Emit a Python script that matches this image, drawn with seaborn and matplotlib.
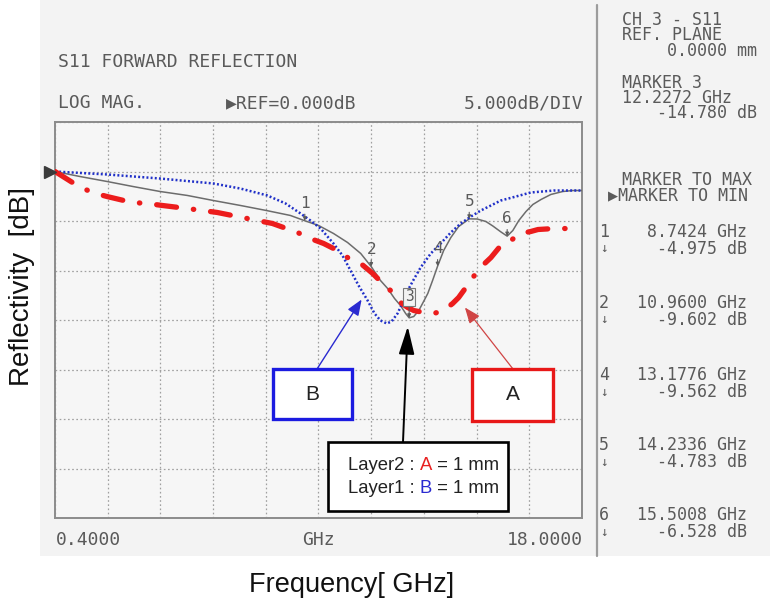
import matplotlib
matplotlib.use("Agg")
import matplotlib.pyplot as plt
import matplotlib.transforms as mtransforms
from matplotlib.patches import Rectangle
from matplotlib.lines import Line2D
from matplotlib.text import Annotation
import numpy as np
import pandas as pd
import seaborn as sns

# Sweep and display settings of the analyser screen
F_START, F_STOP = 0.4, 18.0          # GHz
REF_DB, DB_PER_DIV = 0.0, 5.0        # dB
N_XDIV, N_YDIV = 10, 8

# Measured two-layer response (grey solid trace, carries the markers)
freq_meas = [0.40, 1.24, 2.14, 3.01, 3.91, 4.82, 5.69, 6.59, 7.46, 8.26,
             8.7424, 9.20, 9.70, 10.17, 10.61, 10.96, 11.27, 11.51, 11.74,
             11.94, 12.11, 12.2272, 12.38, 12.55, 12.71, 12.85, 13.01,
             13.1776, 13.38, 13.62, 13.88, 14.2336, 14.50, 14.79, 15.02,
             15.29, 15.5008, 15.69, 15.89, 16.13, 16.36, 16.63, 16.96,
             17.36, 17.70, 18.00]
db_meas = [0.0, -0.51, -1.01, -1.52, -2.02, -2.42, -2.93, -3.43, -3.94, -4.44,
           -4.975, -5.45, -6.26, -7.17, -8.28, -9.602, -11.01, -11.82, -12.83,
           -13.54, -14.34, -14.78, -14.65, -14.04, -13.13, -12.32, -11.01,
           -9.562, -7.98, -6.67, -5.56, -4.783, -4.80, -5.05, -5.50,
           -6.10, -6.528, -5.96, -4.95, -4.04, -3.33, -2.83, -2.32,
           -2.02, -1.92, -1.92]

# Layer 1 : B = 1 mm (blue dotted trace)
freq_b = [0.40, 2.14, 3.91, 5.69, 6.59, 7.49, 8.10, 8.60, 8.93, 9.27, 9.70,
          10.00, 10.27, 10.54, 10.84, 11.07, 11.27, 11.48, 11.64, 11.84, 12.01,
          12.18, 12.38, 12.61, 12.95, 13.28, 13.62, 13.95, 14.29, 14.62, 14.96,
          15.29, 15.79, 16.29, 17.06, 18.00]
db_b = [0.0, -0.30, -0.71, -1.21, -1.72, -2.42, -3.23, -4.24, -4.95, -5.76,
        -7.27, -8.48, -10.0, -11.52, -13.03, -14.34, -15.05, -15.35, -15.15,
        -14.34, -13.23, -12.02, -10.91, -9.70, -8.28, -7.27, -6.16, -5.25,
        -4.55, -3.94, -3.43, -2.93, -2.53, -2.12, -1.92, -1.92]

# Layer 2 : A = 1 mm (red dash-dot trace)
freq_a = [0.40, 1.14, 1.64, 2.14, 2.98, 3.48, 3.98, 4.82, 5.32, 5.82, 6.66,
          7.16, 7.66, 8.50, 8.93, 9.37, 9.77, 10.17, 10.61, 11.01, 11.34,
          11.68, 11.94, 12.18, 12.38, 12.71, 13.05, 13.38, 13.68, 13.88, 14.05,
          14.29, 14.52, 14.75, 14.96, 15.29, 15.52, 15.96, 16.29, 16.53, 17.06,
          17.53, 18.00]
db_a = [0.0, -1.41, -2.12, -2.53, -3.13, -3.23, -3.43, -3.74, -3.94, -4.14,
        -4.65, -4.95, -5.25, -6.16, -6.77, -7.27, -7.88, -8.69, -9.29, -10.30,
        -11.31, -12.22, -13.23, -13.74, -14.04, -14.24, -14.34, -14.04, -13.33,
        -12.73, -12.02, -11.01, -10.0, -9.29, -8.69, -7.47, -7.17, -6.26,
        -6.06, -5.86, -5.76, -5.76, -5.76]

# Marker readouts
marker_ids = [1, 2, 3, 4, 5, 6]
marker_freq = [8.7424, 10.9600, 12.2272, 13.1776, 14.2336, 15.5008]
marker_db = [-4.975, -9.602, -14.780, -9.562, -4.783, -6.528]

sns.set_style("white")
plt.rcParams["lines.scale_dashes"] = False

W, H = 770, 606
fig = plt.figure(figsize=(W / 100, H / 100), dpi=100)
fig.patch.set_facecolor("white")


def px(x, y):
    """Screen pixel position -> figure fraction."""
    return (x / W, 1 - y / H)


MONO = ["DejaVu Sans Mono", "DejaVu Sans"]
SANS = ["Liberation Sans", "DejaVu Sans"]
SCREEN_TXT = "#5a5a5a"

# instrument screen background
fig.patches.append(Rectangle(px(40, 556), (W - 40) / W, 556 / H,
                             transform=fig.transFigure, facecolor="#f3f3f3",
                             edgecolor="none", zorder=-5))

ax = fig.add_axes([55 / W, 1 - 518 / H, (582 - 55) / W, (518 - 122) / H])
ax.set_zorder(1)
ax.set_facecolor("#f6f6f6")

df_meas = pd.DataFrame({"freq": freq_meas, "db": db_meas})
df_b = pd.DataFrame({"freq": freq_b, "db": db_b})
df_a = pd.DataFrame({"freq": freq_a, "db": db_a})

sns.lineplot(data=df_meas, x="freq", y="db", ax=ax, color="#6c6c6c", lw=1.1,
             estimator=None, sort=False, zorder=3)
sns.lineplot(data=df_b, x="freq", y="db", ax=ax, color="#2030c8", lw=1.8,
             estimator=None, sort=False, zorder=4)
ax.lines[-1].set_dashes([1.4, 1.6])
sns.lineplot(data=df_a, x="freq", y="db", ax=ax, color="#ec1c1c", lw=3.8,
             estimator=None, sort=False, zorder=5)
red = ax.lines[-1]
red.set_dashes([14.4, 12.2, 0.3, 12.2])
red.set_dash_capstyle("round")

ax.set_xlim(F_START, F_STOP)
ax.set_ylim(REF_DB - 7 * DB_PER_DIV, REF_DB + DB_PER_DIV)
ax.set_xticks(np.linspace(F_START, F_STOP, N_XDIV + 1))
ax.set_yticks(np.linspace(REF_DB - 7 * DB_PER_DIV, REF_DB + DB_PER_DIV, N_YDIV + 1))
ax.grid(True, color="#a0a0a0", lw=0.9, linestyle=(0, (1.2, 1.8)))
ax.tick_params(length=0, labelbottom=False, labelleft=False)
ax.set_xlabel("")
ax.set_ylabel("")
for s in ax.spines.values():
    s.set_color("#8c8c8c")
    s.set_linewidth(1.4)

# reference level pointer
tri_tf = mtransforms.offset_copy(ax.transData, fig=fig, x=-5, y=0, units="dots")
ax.plot([F_START], [REF_DB], marker=">", ms=9, color="#3a3a3a",
        transform=tri_tf, clip_on=False, zorder=6)

# marker flags
for mid, f, d in zip(marker_ids, marker_freq, marker_db):
    if mid == 3:
        ax.annotate(str(mid), xy=(f, d), xytext=(0, 15), textcoords="offset points",
                    ha="center", va="center", fontsize=10.5, family=MONO,
                    color="#5a5a5a", zorder=7,
                    bbox=dict(boxstyle="square,pad=0.12", fc="#f2f2f2",
                              ec="#7a7a7a", lw=0.8),
                    arrowprops=dict(arrowstyle="-|>", color="#5a5a5a", lw=0.8,
                                    mutation_scale=5, shrinkA=0, shrinkB=0))
    else:
        ax.annotate(str(mid), xy=(f, d), xytext=(0, 12.5), textcoords="offset points",
                    ha="center", va="center", fontsize=11.5, family=MONO,
                    color="#5a5a5a", zorder=7,
                    arrowprops=dict(arrowstyle="-|>", color="#5a5a5a", lw=0.8,
                                    mutation_scale=5, shrinkA=0, shrinkB=0))


# screen header
def screen_text(x, y, s, ha="left", size=12, **kw):
    fig.text(*px(x, y), s, ha=ha, va="center", fontsize=size, family=MONO,
             color=SCREEN_TXT, **kw)


screen_text(58, 62, "S11 FORWARD REFLECTION", size=13)
screen_text(58, 103, "LOG MAG.", size=13)
screen_text(226, 103, "\u25b6REF=0.000dB", size=13)
screen_text(583, 103, "5.000dB/DIV", ha="right", size=13)
screen_text(56, 540, "0.4000", size=13)
screen_text(318, 540, "GHz", ha="center", size=13)
screen_text(583, 540, "18.0000", ha="right", size=13)

# readout panel
fig.add_artist(Line2D([597 / W, 597 / W], [1 - 5 / H, 1 - 556 / H],
                      color="#9c9c9c", lw=1.6))
screen_text(622, 20, "CH 3 - S11")
screen_text(622, 35, "REF. PLANE")
screen_text(757, 51, "0.0000 mm", ha="right")
screen_text(622, 83, "MARKER 3")
screen_text(622, 98, "12.2272 GHz")
screen_text(757, 113, "-14.780 dB", ha="right")
screen_text(622, 180, "MARKER TO MAX")
screen_text(608, 195, "\u25b6MARKER TO MIN")

row_y = {1: 232, 2: 303, 4: 375, 5: 445, 6: 515}
for mid, f, d in zip(marker_ids, marker_freq, marker_db):
    if mid not in row_y:
        continue
    y = row_y[mid]
    screen_text(604, y, str(mid), ha="center")
    screen_text(747, y, f"{f:.4f} GHz", ha="right")
    screen_text(604, y + 17, "\u2193", ha="center", size=9)
    screen_text(747, y + 17, f"{d:.3f} dB", ha="right")


# layer callouts
def box(x0, y0, x1, y1, ec, lw):
    fig.patches.append(Rectangle(px(x0, y1), (x1 - x0) / W, (y1 - y0) / H,
                                 transform=fig.transFigure, facecolor="white",
                                 edgecolor=ec, lw=lw, zorder=8))


box(273, 369, 352, 419, "#1b1be0", 2.4)
fig.text(*px(312.5, 394), "B", ha="center", va="center", fontsize=15,
         family=SANS, color="#222222", zorder=9)
box(472, 369, 553, 421, "#e81818", 2.4)
fig.text(*px(512.5, 395), "A", ha="center", va="center", fontsize=15,
         family=SANS, color="#222222", zorder=9)

ax.annotate("", xy=(10.64, -12.93), xycoords="data", xytext=px(317, 369),
            textcoords="figure fraction", annotation_clip=False, zorder=9,
            arrowprops=dict(arrowstyle="-|>,head_length=0.8,head_width=0.32",
                            color="#2a2ad0", lw=1.0, mutation_scale=12,
                            shrinkA=0, shrinkB=0))
ax.annotate("", xy=(14.09, -13.74), xycoords="data", xytext=px(513, 369),
            textcoords="figure fraction", annotation_clip=False, zorder=9,
            arrowprops=dict(arrowstyle="-|>,head_length=0.8,head_width=0.32",
                            color="#d04545", lw=0.9, mutation_scale=12,
                            shrinkA=0, shrinkB=0))
ax.annotate("", xy=(12.18, -15.66), xycoords="data", xytext=px(403, 442),
            textcoords="figure fraction", annotation_clip=False, zorder=9,
            arrowprops=dict(arrowstyle="-|>,head_length=0.85,head_width=0.24",
                            color="black", lw=1.4, mutation_scale=20,
                            shrinkA=0, shrinkB=0))

box(328, 442, 508, 511, "black", 1.9)
for y, name, key, col in [(470, "Layer2 : ", "A", "#e82020"),
                          (493, "Layer1 : ", "B", "#2a2ad0")]:
    t1 = fig.text(*px(348, y), name, ha="left", va="baseline", fontsize=13.3,
                  family=SANS, color="#222222", zorder=9)
    t2 = fig.add_artist(Annotation(
        key, xy=(1, 0), xycoords=t1, ha="left", va="bottom", fontsize=13.3,
        family=SANS, color=col, zorder=9))
    fig.add_artist(Annotation(
        " = 1 mm", xy=(1, 0), xycoords=t2, ha="left", va="bottom", fontsize=13.3,
        family=SANS, color="#222222", zorder=9))

# outer axis titles
fig.text(*px(22, 286), "Reflectivity  [dB]", rotation=90, ha="center",
         va="center", fontsize=20, family=SANS, color="#111111")
fig.text(*px(352, 585), "Frequency[ GHz]", ha="center", va="center",
         fontsize=19.5, family=SANS, color="#111111")

fig.savefig("out.png", dpi=100)
